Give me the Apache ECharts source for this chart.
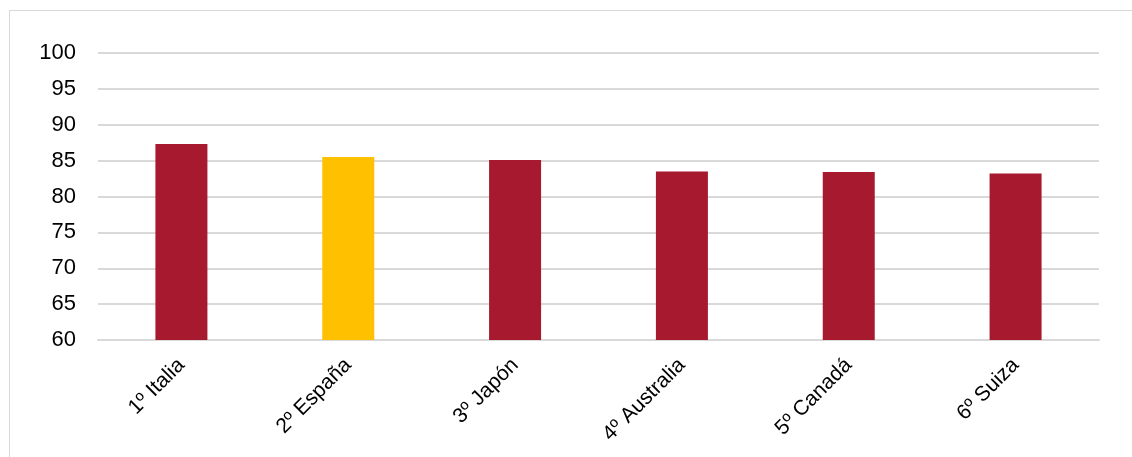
<!DOCTYPE html>
<html>
<head>
<meta charset="utf-8">
<script src="https://cdn.jsdelivr.net/npm/echarts@6/dist/echarts.min.js"></script>
<style>
html,body{margin:0;padding:0;background:#fff;}
#frame{position:absolute;left:9px;top:10px;width:1140px;height:460px;border:1px solid #d9d9d9;box-sizing:border-box;}
#chart{position:absolute;left:0;top:0;width:1132px;height:457px;}
</style>
</head>
<body>
<div id="frame"></div>
<div id="chart"></div>
<script>
const categories = ["1º Italia", "2º España", "3º Japón", "4º Australia", "5º Canadá", "6º Suiza"];
const values = [87.3, 85.5, 85.1, 83.5, 83.4, 83.2];
const highlightIndex = 1;
const yMin = 60, yMax = 100, yStep = 5;

const chart = echarts.init(document.getElementById('chart'), null, {renderer: 'canvas'});
chart.setOption({
  animation: false,
  grid: {left: 98, right: 33, top: 53, bottom: 117},
  xAxis: {
    type: 'category',
    data: categories,
    axisLine: {show: true, lineStyle: {color: '#d9d9d9', width: 2}},
    axisTick: {show: false},
    axisLabel: {
      rotate: 45, margin: 22, interval: 0,
      fontFamily: 'Liberation Sans, Arial, sans-serif', fontSize: 21, color: '#000'
    }
  },
  yAxis: {
    type: 'value', min: yMin, max: yMax, interval: yStep,
    axisLine: {show: false}, axisTick: {show: false},
    splitLine: {lineStyle: {color: '#d9d9d9', width: 2}},
    axisLabel: {
      margin: 22, fontFamily: 'Liberation Sans, Arial, sans-serif', fontSize: 22, color: '#000'
    }
  },
  series: [{
    type: 'bar',
    barWidth: 52,
    data: values.map((v, i) => ({
      value: v,
      itemStyle: {color: i === highlightIndex ? '#FFC000' : '#A6192E'}
    }))
  }]
});
</script>
</body>
</html>
